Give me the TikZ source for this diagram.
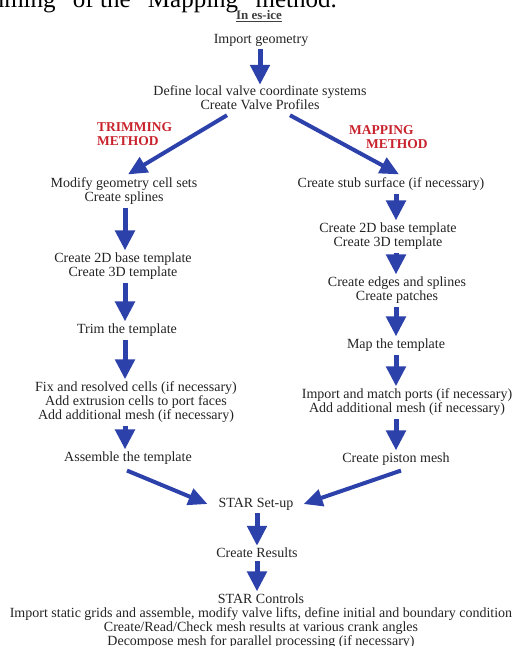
\documentclass[tikz,border=0pt]{standalone}
\usepackage{fontspec}
\setmainfont{Liberation Serif}
\usetikzlibrary{arrows.meta,calc}
\definecolor{arrblue}{RGB}{45,65,170}
\definecolor{mred}{RGB}{200,35,45}
\definecolor{txt}{RGB}{35,35,35}
\begin{document}
\begin{tikzpicture}[x=1pt,y=-1pt,
  every node/.style={font=\fontsize{14}{14}\selectfont, text=txt, inner sep=0pt, align=center, yshift=-2pt},
  arr/.style={draw=arrblue, line width=5pt, -{Triangle[width=19pt,length=20pt]}},
  darr/.style={draw=arrblue, line width=4pt, -{Triangle[width=17pt,length=19pt]}},
  meth/.style={font=\fontsize{13.5}{14}\selectfont\bfseries, text=mred, align=left, anchor=west}]
\useasboundingbox (0,0) rectangle (512,646);
\clip (0,0) rectangle (512,646);
% clipped caption of the page above
\node[anchor=base east, font=\fontsize{25}{25}\selectfont, text=black, yshift=0pt] (cap) at (337,5) {Trimming” of the “Mapping” method.};
% column guides
\coordinate (cC) at (260,0);
\coordinate (cL) at (125,0);
\coordinate (cR) at (396,0);
\coordinate (cS) at (257,0);
% nodes
\node[font=\fontsize{13}{14}\selectfont\bfseries, text=black!75] (title) at (259,14) {\underline{In es-ice}};
\node (imp) at (261,38) {Import geometry};
\node (def) at (260,96) {Define local valve coordinate systems\\Create Valve Profiles};
\node[meth] (trm) at (97,132) {TRIMMING\\METHOD};
\node[meth] (mpm) at (349,135) {MAPPING\\\hspace*{17pt}METHOD};
% left column
\node (mod) at (124,189) {Modify geometry cell sets\\Create splines};
\node (c2dL) at (123,264) {Create 2D base template\\Create 3D template};
\node (trim) at (127,328) {Trim the template};
\node (fix) at (136,400) {Fix and resolved cells (if necessary)\\Add extrusion cells to port faces\\Add additional mesh (if necessary)};
\node (asm) at (128,456) {Assemble the template};
% right column
\node (stub) at (391,182) {Create stub surface (if necessary)};
\node (c2dR) at (388,234) {Create 2D base template\\Create 3D template};
\node (edges) at (397,288) {Create edges and splines\\Create patches};
\node (map) at (396,343) {Map the template};
\node (imp2) at (407,400) {Import and match ports (if necessary)\\Add additional mesh (if necessary)};
\node (piston) at (396,457) {Create piston mesh};
% bottom
\node (setup) at (256,502) {STAR Set-up};
\node (results) at (257,551) {Create Results};
\node (controls) at (261,619) {STAR Controls\\Import static grids and assemble, modify valve lifts, define initial and boundary condition\\Create/Read/Check mesh results at various crank angles\\Decompose mesh for parallel processing (if necessary)};
% connectors
\draw[arr, shorten <=3pt, shorten >=1pt] (imp.south -| cC) -- (def.north -| cC);
\draw[darr] ($(def.south)+(-33,5)$) -- ($(mod.north)+(4,-3)$);
\draw[darr] ($(def.south)+(30,5)$) -- ($(stub.north)+(8,-3)$);
\draw[arr, shorten <=3pt, shorten >=2pt] (mod.south -| cL) -- (c2dL.north -| cL);
\draw[arr, shorten <=3pt, shorten >=2pt] (c2dL.south -| cL) -- (trim.north -| cL);
\draw[arr, shorten <=3pt, shorten >=2pt] (trim.south -| cL) -- (fix.north -| cL);
\draw[arr, shorten <=3pt, shorten >=2pt] (fix.south -| cL) -- (asm.north -| cL);
\draw[arr, shorten <=3pt, shorten >=2pt] (stub.south -| cR) -- (c2dR.north -| cR);
\draw[arr, shorten <=3pt, shorten >=2pt] (c2dR.south -| cR) -- (edges.north -| cR);
\draw[arr, shorten <=3pt, shorten >=2pt] (edges.south -| cR) -- (map.north -| cR);
\draw[arr, shorten <=3pt, shorten >=2pt] (map.south -| cR) -- (imp2.north -| cR);
\draw[arr, shorten <=3pt, shorten >=2pt] (imp2.south -| cR) -- (piston.north -| cR);
\draw[darr] ($(asm.south)+(-1,6)$) -- ($(setup.west)+(-11,0)$);
\draw[darr] ($(piston.south)+(5,5)$) -- ($(setup.east)+(10,0)$);
\draw[arr, shorten <=3pt, shorten >=2pt] (setup.south -| cS) -- (results.north -| cS);
\draw[arr, shorten <=3pt, shorten >=2pt] (results.south -| cS) -- (controls.north -| cS);
\end{tikzpicture}
\end{document}
